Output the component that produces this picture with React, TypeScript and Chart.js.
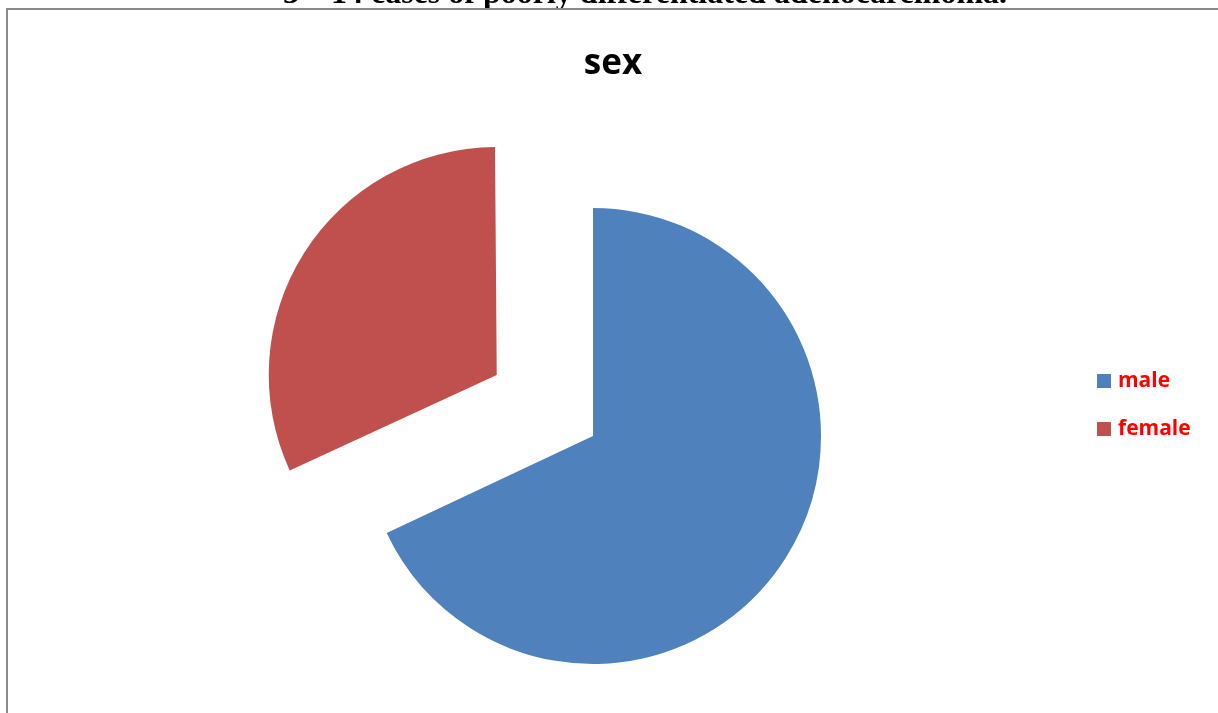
import React, { useEffect, useRef } from "react";
import { Chart, registerables } from "chart.js";

Chart.register(...registerables);

const categories = ["male", "female"];
const values = [68, 32];
const colors = ["#4F81BD", "#C0504D"];
// Chart.js draws an arc offset at a quarter of this value
const explode = [0, 456];
const chartTitle = "sex";
const pageHeading = "3 – 14 cases of poorly differentiated adenocarcinoma.";

const W = 1218;
const H = 713;
const RADIUS = 228;

// Chart.js enlarges an exploded arc's radius by offset*(1-sin(circumference));
// undo that so the exploded slice keeps the same radius as the others.
const keepRadiusPlugin = {
  id: "keepRadius",
  beforeDatasetsDraw(chart: any) {
    chart.getSortedVisibleDatasetMetas().forEach((meta: any) => {
      meta.data.forEach((el: any) => {
        const off = ((el.options && el.options.offset) || 0) / 4;
        if (!off) return;
        const fix = 1 - Math.sin(Math.min(Math.PI, el.circumference || 0));
        el.outerRadius = RADIUS - off * fix;
      });
    });
  },
};

const decorPlugin = {
  id: "decor",
  beforeDraw(chart: any) {
    const ctx = chart.ctx;
    ctx.save();
    ctx.fillStyle = "#ffffff";
    ctx.fillRect(0, 0, chart.width, chart.height);
    // frame lines (left and top)
    ctx.fillStyle = "#8a8a8a";
    ctx.fillRect(6, 8, 2, chart.height - 8);
    ctx.fillRect(6, 8, chart.width - 6, 2);
    ctx.restore();
  },
  afterDraw(chart: any) {
    const ctx = chart.ctx;
    ctx.save();
    // clipped page heading above frame
    ctx.beginPath();
    ctx.rect(0, 0, chart.width, 8);
    ctx.clip();
    ctx.fillStyle = "#000000";
    ctx.font = "bold 32px 'Liberation Serif', 'Times New Roman', serif";
    ctx.textBaseline = "alphabetic";
    ctx.textAlign = "left";
    ctx.fillText(pageHeading, 283, 3);
    ctx.restore();

    ctx.save();
    // chart title
    ctx.fillStyle = "#000000";
    ctx.font = "bold 35px 'Open Sans', sans-serif";
    ctx.textAlign = "center";
    ctx.textBaseline = "alphabetic";
    ctx.fillText(chartTitle, 613, 74);

    // legend
    ctx.font = "bold 21px 'Open Sans', sans-serif";
    ctx.textAlign = "left";
    ctx.textBaseline = "middle";
    const ds = chart.data.datasets[0];
    chart.data.labels.forEach((lab: string, i: number) => {
      const cy = 381 + i * 48;
      ctx.fillStyle = ds.backgroundColor[i];
      ctx.fillRect(1097, cy - 7, 14, 14);
      ctx.fillStyle = "#FF0000";
      ctx.fillText(lab, 1118, cy);
    });
    ctx.restore();
  },
};

export default function App() {
  const ref = useRef<HTMLCanvasElement>(null);
  useEffect(() => {
    if (!ref.current) return;
    const chart = new Chart(ref.current, {
      type: "pie",
      data: {
        labels: categories,
        datasets: [
          {
            data: values,
            backgroundColor: colors,
            borderWidth: 0,
            offset: explode,
          },
        ],
      },
      options: {
        animation: false,
        responsive: false,
        radius: RADIUS,
        layout: { padding: { left: 100, right: 132, top: 200, bottom: 41 } },
        plugins: {
          legend: { display: false },
          title: { display: false },
          tooltip: { enabled: false },
        },
      },
      plugins: [decorPlugin, keepRadiusPlugin],
    });
    return () => chart.destroy();
  }, []);
  return (
    <div style={{ position: "fixed", left: 0, top: 0, width: W, height: H, background: "#fff" }}>
      <canvas ref={ref} width={W} height={H} style={{ width: W, height: H, display: "block" }} />
    </div>
  );
}
